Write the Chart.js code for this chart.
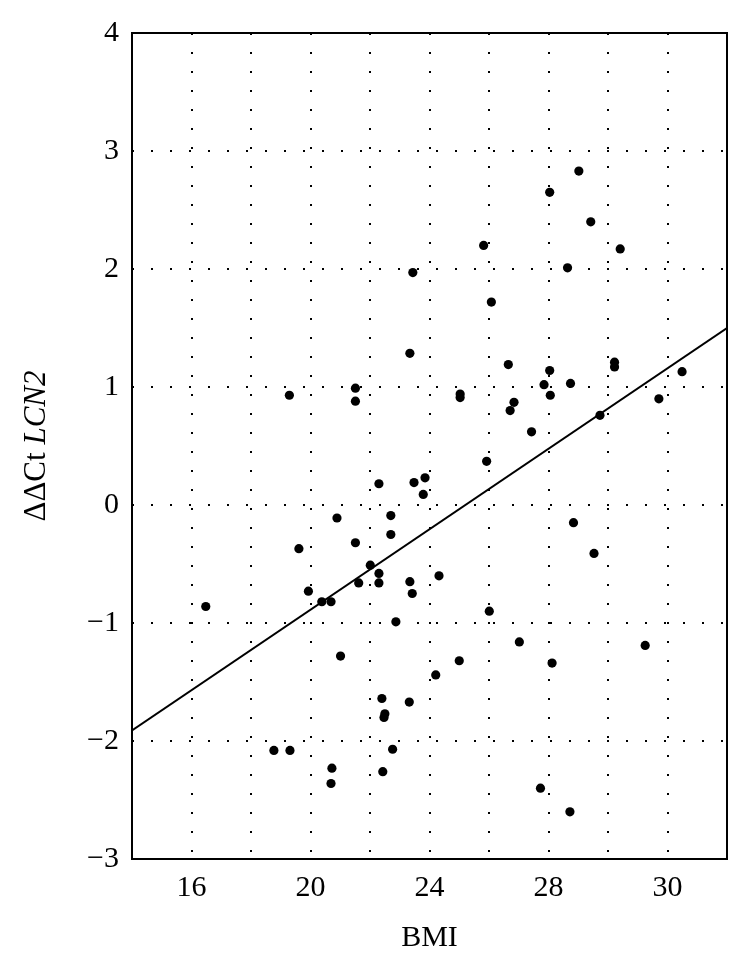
<!DOCTYPE html>
<html lang="en">
<head>
<meta charset="UTF-8" />
<title>LCN2 vs BMI</title>
<script src="https://cdn.jsdelivr.net/npm/chart.js"></script>
<style>
    body {
        margin: 0;
        background: #fff;
    }
</style>
</head>
<body>
<canvas id="bmiChart" width="749" height="967"></canvas>
<script>
// BMI of each sample and its ddCt LCN2 value
const bmi = [16.48, 18.77, 19.31, 19.29, 19.61, 19.93, 20.38, 20.69, 20.72, 20.69,
    20.89, 21.01, 21.51, 21.51, 21.51, 21.62, 22.01, 22.30, 22.30, 22.30,
    22.40, 22.50, 22.47, 22.43, 22.70, 22.70, 22.76, 22.87, 23.34, 23.44,
    23.48, 23.85, 23.79, 23.34, 23.42, 23.32, 24.21, 24.32, 25.03, 25.03,
    25.00, 25.82, 25.92, 26.08, 26.01, 26.65, 26.84, 26.71, 27.02, 27.43,
    27.73, 27.85, 28.04, 28.04, 28.06, 28.12, 28.64, 28.74, 28.72, 28.84,
    29.02, 29.42, 29.53, 29.73, 30.22, 30.22, 30.41, 31.25, 31.71, 32.49];
const ddct = [-0.86, -2.08, -2.08, 0.93, -0.37, -0.73, -0.82, -0.82, -2.23, -2.36,
    -0.11, -1.28, 0.99, 0.88, -0.32, -0.66, -0.51, 0.18, -0.58, -0.66,
    -1.64, -1.77, -1.80, -2.26, -0.09, -0.25, -2.07, -0.99, 1.285, 1.97,
    0.19, 0.23, 0.09, -0.65, -0.75, -1.67, -1.44, -0.60, 0.94, 0.91,
    -1.32, 2.20, 0.37, 1.72, -0.90, 1.19, 0.87, 0.80, -1.16, 0.62,
    -2.40, 1.02, 2.65, 1.14, 0.93, -1.34, 2.01, 1.03, -2.60, -0.15,
    2.83, 2.40, -0.41, 0.76, 1.21, 1.17, 2.17, -1.19, 0.90, 1.13];

// fitted line, read at the two edges of the plot
const fitX = [14, 34];
const fitY = [-1.91, 1.50];

// axis ticks
const xTickValues = [16, 20, 24, 28, 32];
const xTickLabels = ['16', '20', '24', '28', '30'];
const yTickValues = [-3, -2, -1, 0, 1, 2, 3, 4];

const serif = '"Liberation Serif", "Times New Roman", serif';

const frame = {
    id: 'frame',
    afterDraw(chart) {
        const { ctx, chartArea: a } = chart;
        ctx.save();
        ctx.strokeStyle = '#000';
        ctx.lineWidth = 2;
        ctx.strokeRect(a.left, a.top, a.right - a.left, a.bottom - a.top);

        // y title: "ΔΔCt " upright, "LCN2" italic
        const part1 = 'ΔΔCt ';
        const part2 = 'LCN2';
        const fUp = '31px ' + serif;
        const fIt = 'italic 31px ' + serif;
        ctx.font = fUp;
        const w1 = ctx.measureText(part1).width;
        ctx.font = fIt;
        const w2 = ctx.measureText(part2).width;
        ctx.translate(37, (a.top + a.bottom) / 2);
        ctx.rotate(-Math.PI / 2);
        ctx.fillStyle = '#000';
        ctx.textBaseline = 'middle';
        ctx.textAlign = 'left';
        ctx.font = fUp;
        ctx.fillText(part1, -(w1 + w2) / 2, 0);
        ctx.font = fIt;
        ctx.fillText(part2, -(w1 + w2) / 2 + w1, 0);
        ctx.restore();
    }
};

const ctx = document.getElementById('bmiChart').getContext('2d');

new Chart(ctx, {
    type: 'scatter',
    data: {
        datasets: [
            {
                data: bmi.map((x, i) => ({ x: x, y: ddct[i] })),
                backgroundColor: '#000',
                borderWidth: 0,
                pointRadius: 4.6,
            },
            {
                type: 'line',
                data: fitX.map((x, i) => ({ x: x, y: fitY[i] })),
                borderColor: '#000',
                borderWidth: 2,
                pointRadius: 0,
                fill: false,
            },
        ],
    },
    plugins: [frame],
    options: {
        responsive: false,
        animation: false,
        layout: {
            padding: { top: 33, right: 22, left: 0, bottom: 0 },
        },
        plugins: {
            legend: { display: false },
            tooltip: { enabled: false },
        },
        scales: {
            x: {
                type: 'linear',
                min: 14,
                max: 34,
                afterFit: (s) => { s.height = 108; },
                afterBuildTicks: (s) => {
                    const t = [];
                    for (let v = 16; v <= 32; v += 2) t.push({ value: v });
                    s.ticks = t;
                },
                ticks: {
                    autoSkip: false,
                    maxRotation: 0,
                    padding: 11,
                    color: '#000',
                    font: { family: serif, size: 30 },
                    callback: (v) => {
                        const k = xTickValues.indexOf(v);
                        return k >= 0 ? xTickLabels[k] : '';
                    },
                },
                grid: {
                    color: '#000',
                    lineWidth: 2,
                    drawTicks: false,
                },
                border: { display: false, dash: [2, 17] },
                title: {
                    display: true,
                    text: 'BMI',
                    color: '#000',
                    font: { family: serif, size: 30 },
                    padding: { top: 0, bottom: 11 },
                },
            },
            y: {
                type: 'linear',
                min: -3,
                max: 4,
                afterFit: (s) => { s.width = 132; },
                afterBuildTicks: (s) => {
                    s.ticks = yTickValues.map((v) => ({ value: v }));
                },
                ticks: {
                    padding: 13,
                    color: '#000',
                    font: { family: serif, size: 30 },
                    callback: (v) => (v < 0 ? '\u2212' + Math.abs(v) : String(v)),
                },
                grid: {
                    color: (c) => (c.tick && (c.tick.value === -3 || c.tick.value === 4) ? 'rgba(0,0,0,0)' : '#000'),
                    lineWidth: 2,
                    drawTicks: false,
                },
                border: { display: false, dash: [2, 17] },
            },
        },
    },
});
</script>
</body>
</html>
